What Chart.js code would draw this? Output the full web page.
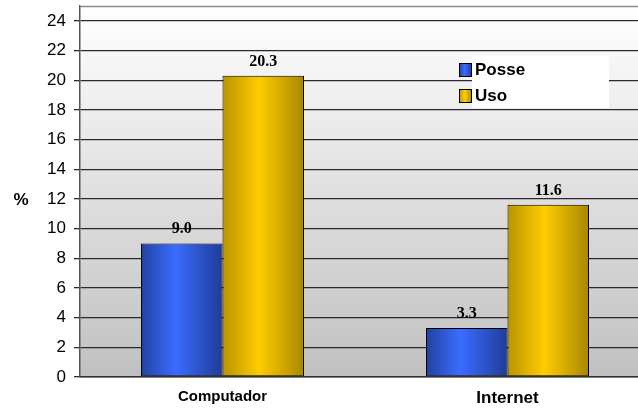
<!DOCTYPE html>
<html>
<head>
<meta charset="utf-8">
<script src="https://cdn.jsdelivr.net/npm/chart.js@4/dist/chart.umd.min.js"></script>
<style>
  html, body { margin: 0; padding: 0; background: #fff; }
  #wrap { width: 638px; height: 408px; overflow: hidden; position: relative; }
  canvas { display: block; }
</style>
</head>
<body>
<div id="wrap"><canvas id="c" width="650" height="408" style="width:650px;height:408px"></canvas></div>
<script>
// Categories, series and axis ticks
const categories = ['Computador', 'Internet'];
const seriesNames = ['Posse', 'Uso'];
const posse = [9.0, 3.3];
const uso = [20.3, 11.6];
const yTicks = [0, 2, 4, 6, 8, 10, 12, 14, 16, 18, 20, 22, 24];
const yMax = 25;
const yTitle = '%';

const SANS = '"Liberation Sans", Arial, sans-serif';
const SERIF = '"Liberation Serif", "Times New Roman", serif';
const CAT_PCT = 0.572;

// Horizontal "cylinder" shading for each bar
const blueStops = [[0, '#2241a0'], [0.42, '#3a6cff'], [1, '#1f3c98']];
const goldStops = [[0, '#b89400'], [0.45, '#ffcc00'], [1, '#a88700']];

function fillGradient(ctx2d, x0, x1, stops) {
  const g = ctx2d.createLinearGradient(x0, 0, x1, 0);
  stops.forEach(s => g.addColorStop(s[0], s[1]));
  return g;
}

function barShade(stops) {
  return (c) => {
    const chart = c.chart;
    const xs = chart.scales && chart.scales.x;
    if (!xs || c.type !== 'data' || !xs.width) return stops[1][1];
    const center = xs.getPixelForValue(c.dataIndex);
    const w = xs.width / categories.length * CAT_PCT / 2;
    const x0 = center + (c.datasetIndex - 1) * w;
    return fillGradient(chart.ctx, x0, x0 + w, stops);
  };
}

const plotBackground = {
  id: 'plotBackground',
  beforeDraw(chart) {
    const { ctx, chartArea: a } = chart;
    const g = ctx.createLinearGradient(0, a.top, 0, a.bottom);
    g.addColorStop(0, '#ffffff');
    g.addColorStop(1, '#c0c0c0');
    ctx.save();
    ctx.fillStyle = g;
    ctx.fillRect(a.left, a.top, a.right - a.left, a.bottom - a.top);
    ctx.restore();
  },
  beforeDatasetsDraw(chart) {
    const { ctx, chartArea: a } = chart;
    ctx.save();
    ctx.strokeStyle = '#8a8a8a';
    ctx.lineWidth = 1.5;
    ctx.beginPath();
    ctx.moveTo(a.left, a.top + 0.5);
    ctx.lineTo(a.right, a.top + 0.5);
    ctx.stroke();
    // axis title, written upright
    ctx.fillStyle = '#000';
    ctx.font = 'bold 17px ' + SANS;
    ctx.textAlign = 'center';
    ctx.textBaseline = 'middle';
    ctx.fillText(yTitle, 21, chart.scales.y.getPixelForValue(12) + 1);
    ctx.restore();
  }
};

const valueLabels = {
  id: 'valueLabels',
  afterDatasetsDraw(chart) {
    const ctx = chart.ctx;
    ctx.save();
    ctx.fillStyle = '#000';
    ctx.font = 'bold 16px ' + SERIF;
    ctx.textAlign = 'center';
    ctx.textBaseline = 'alphabetic';
    chart.data.datasets.forEach((ds, di) => {
      chart.getDatasetMeta(di).data.forEach((el, i) => {
        ctx.fillText(ds.data[i].toFixed(1), el.x, el.y - 10);
      });
    });
    ctx.restore();
  }
};

const boxLegend = {
  id: 'boxLegend',
  afterDraw(chart) {
    const ctx = chart.ctx;
    ctx.save();
    ctx.fillStyle = '#ffffff';
    ctx.fillRect(472, 56, 137, 52);
    const rows = [[63, blueStops], [89, goldStops]];
    chart.data.datasets.forEach((ds, i) => {
      const [y, stops] = rows[i];
      ctx.fillStyle = fillGradient(ctx, 459, 472, stops);
      ctx.fillRect(459, y, 13, 14);
      ctx.strokeStyle = '#000';
      ctx.lineWidth = 1;
      ctx.strokeRect(459.5, y + 0.5, 12, 13);
      ctx.fillStyle = '#000';
      ctx.font = 'bold 17px ' + SANS;
      ctx.textAlign = 'left';
      ctx.textBaseline = 'alphabetic';
      ctx.fillText(ds.label, 475, y + 12);
    });
    ctx.restore();
  }
};

new Chart(document.getElementById('c'), {
  type: 'bar',
  data: {
    labels: categories,
    datasets: [
      { label: seriesNames[0], data: posse, backgroundColor: barShade(blueStops),
        borderColor: '#000', borderWidth: 1, borderSkipped: false },
      { label: seriesNames[1], data: uso, backgroundColor: barShade(goldStops),
        borderColor: '#000', borderWidth: 1, borderSkipped: false }
    ]
  },
  options: {
    responsive: false,
    animation: false,
    events: [],
    categoryPercentage: CAT_PCT,
    barPercentage: 1,
    layout: { padding: { top: 6, left: 0, right: 0, bottom: 0 } },
    plugins: { legend: { display: false }, tooltip: { enabled: false } },
    scales: {
      x: {
        offset: true,
        afterFit: (s) => { s.height = 31; s.paddingLeft = 0; s.paddingRight = 0; },
        grid: { display: false, drawTicks: false },
        border: { display: true, color: '#333', width: 1.5 },
        ticks: {
          color: '#000',
          padding: 11,
          maxRotation: 0,
          font: (c) => ({ family: SANS, size: c.index === 0 ? 15 : 17, weight: 'bold' })
        }
      },
      y: {
        min: 0,
        max: yMax,
        afterBuildTicks: (s) => { s.ticks = yTicks.map(v => ({ value: v })); },
        afterFit: (s) => { s.width = 80; s.paddingTop = 0; s.paddingBottom = 0; },
        grid: { color: '#2a2a2a', lineWidth: 1.3, tickLength: 6, drawTicks: true },
        border: { display: true, color: '#555', width: 1.5 },
        ticks: { color: '#000', padding: 8, font: { family: SANS, size: 17 } }
      }
    }
  },
  plugins: [plotBackground, valueLabels, boxLegend]
});
</script>
</body>
</html>
